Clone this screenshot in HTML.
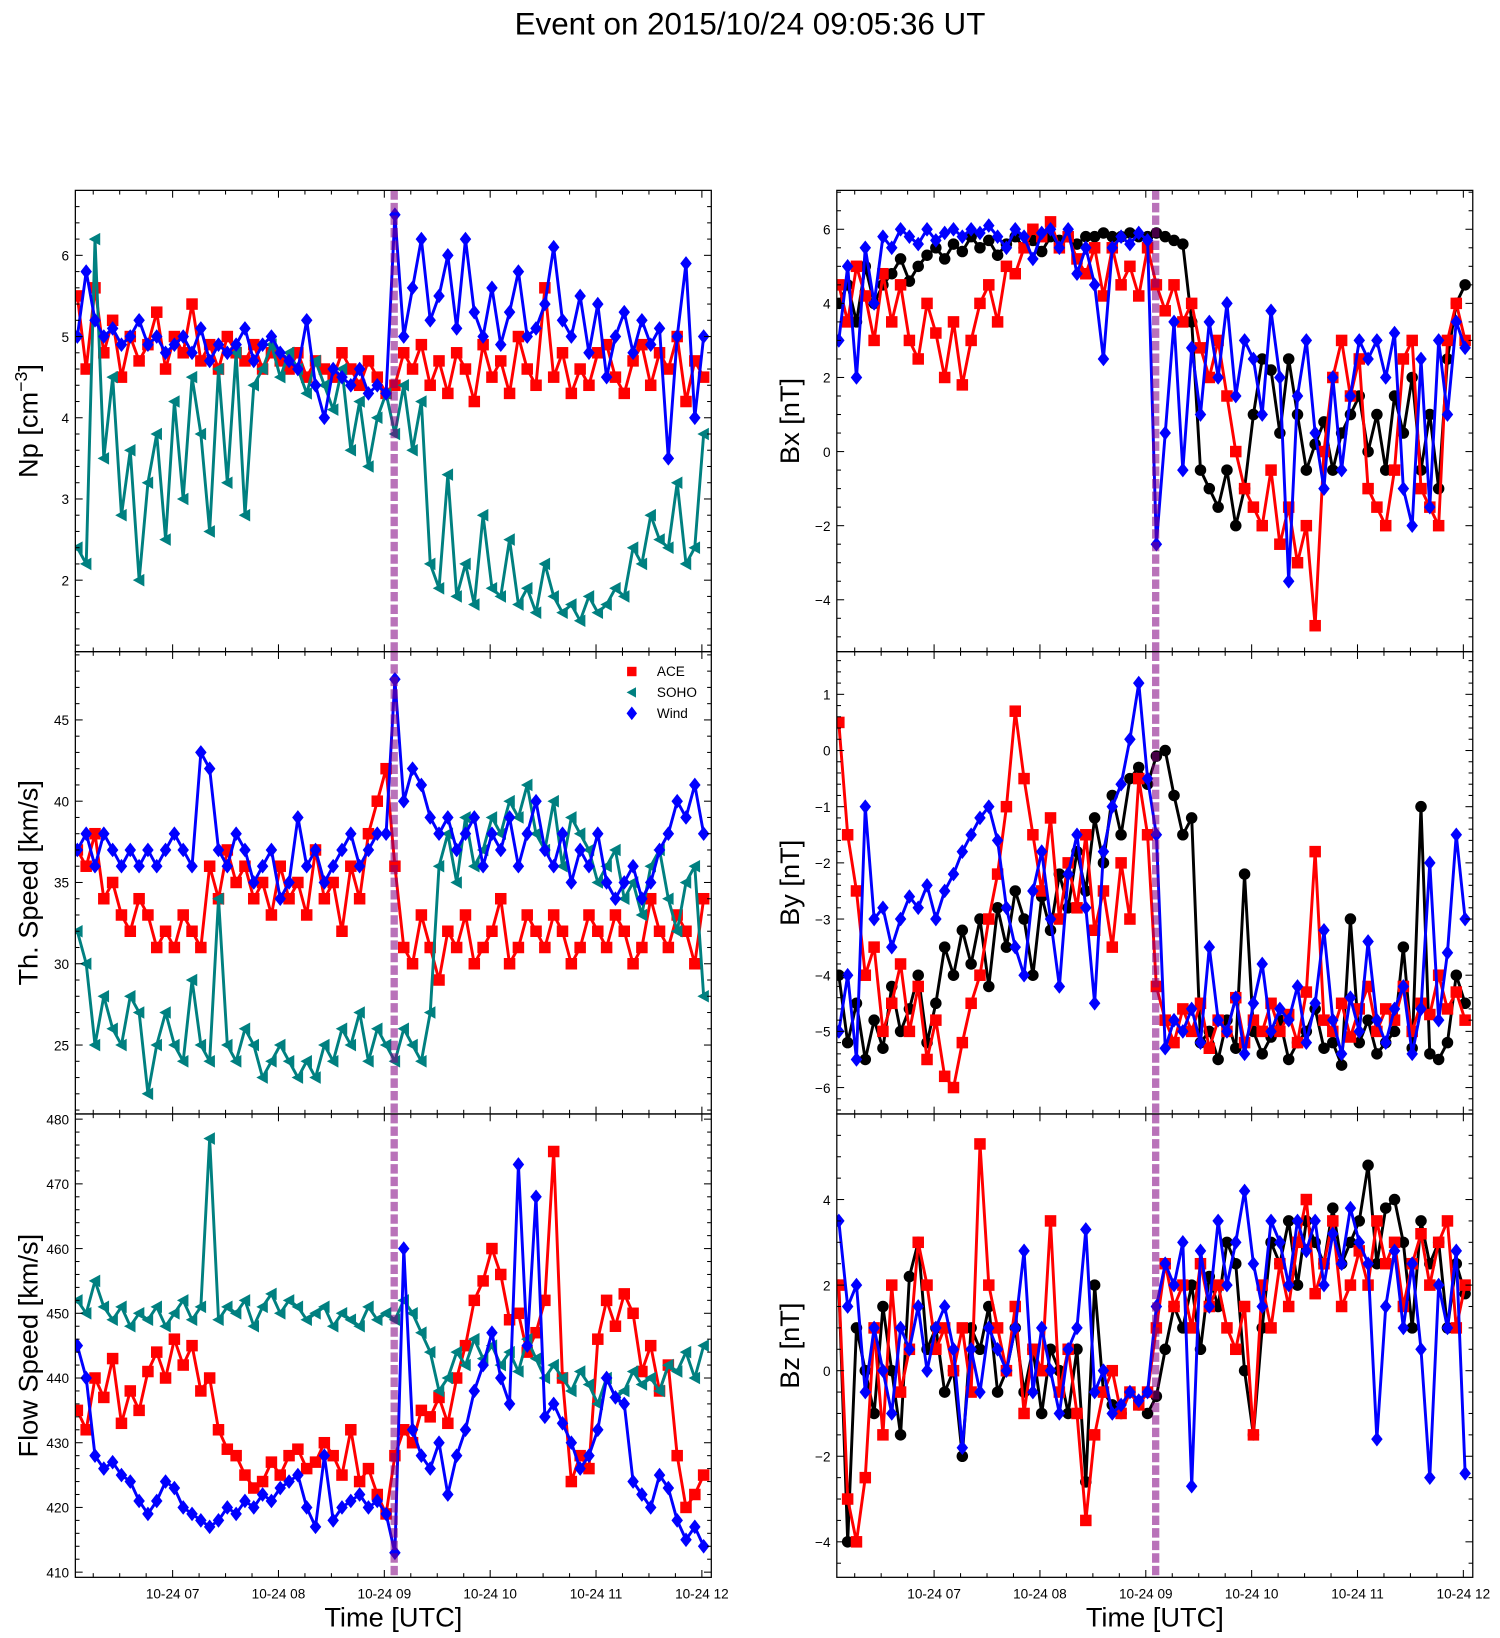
<!DOCTYPE html>
<html><head><meta charset="utf-8"><style>
html,body{margin:0;padding:0;background:#fff;}
svg{display:block;font-family:"Liberation Sans","DejaVu Sans",sans-serif;}
</style></head><body>
<svg id="fig" width="1500" height="1638" viewBox="0 0 1434 1566" xmlns="http://www.w3.org/2000/svg">
<rect width="1434" height="1566" fill="#fff"/>
<text x="717" y="33" font-size="30" text-anchor="middle">Event on 2015/10/24 09:05:36 UT</text>
</svg>
<script>
// ---- data (time in decimal hours, 5-minute samples starting 06:06) ----
const tStart = 6.1, tStep = 1/12;
const eventTime = 9.0933;
const hourTicks = [7,8,9,10,11,12];
const hourLabels = ["10-24 07","10-24 08","10-24 09","10-24 10","10-24 11","10-24 12"];

const npACE = [5.5,4.6,5.6,4.8,5.2,4.5,5.0,4.7,4.9,5.3,4.6,5.0,4.8,5.4,4.7,4.9,4.6,5.0,4.8,4.7,4.9,4.6,4.8,4.7,4.6,4.8,4.5,4.7,4.6,4.5,4.8,4.6,4.4,4.7,4.5,4.3,4.4,4.8,4.6,4.9,4.4,4.7,4.3,4.8,4.6,4.2,4.9,4.5,4.7,4.3,5.0,4.6,4.4,5.6,4.5,4.8,4.3,4.6,4.4,4.8,4.9,4.5,4.3,4.7,4.9,4.4,4.8,4.6,5.0,4.2,4.7,4.5];
const npSOHO = [2.4,2.2,6.2,3.5,4.5,2.8,3.6,2.0,3.2,3.8,2.5,4.2,3.0,4.5,3.8,2.6,4.6,3.2,4.8,2.8,4.4,4.6,4.9,4.5,4.8,4.6,4.3,4.7,4.4,4.1,4.6,3.6,4.2,3.4,4.0,4.3,3.8,4.4,3.6,4.2,2.2,1.9,3.3,1.8,2.2,1.7,2.8,1.9,1.8,2.5,1.7,1.9,1.6,2.2,1.8,1.6,1.7,1.5,1.8,1.6,1.7,1.9,1.8,2.4,2.2,2.8,2.5,2.4,3.2,2.2,2.4,3.8];
const npWind = [5.0,5.8,5.2,5.0,5.1,4.9,5.0,5.2,4.9,5.0,4.8,4.9,5.0,4.8,5.1,4.7,4.9,4.8,4.9,5.1,4.7,4.9,5.0,4.8,4.7,4.6,5.2,4.4,4.0,4.6,4.5,4.4,4.6,4.3,4.4,4.3,6.5,5.0,5.6,6.2,5.2,5.5,6.0,5.1,6.2,5.3,5.0,5.6,4.9,5.3,5.8,5.0,5.1,5.4,6.1,5.2,5.0,5.5,4.8,5.4,4.5,5.0,5.3,4.8,5.2,4.9,5.1,3.5,5.0,5.9,4.0,5.0];

const thACE = [37,36,38,34,35,33,32,34,33,31,32,31,33,32,31,36,34,37,35,36,34,35,33,36,34,35,33,37,34,35,32,36,34,38,40,42,36,31,30,33,31,29,32,31,33,30,31,32,34,30,31,33,32,31,33,32,30,31,33,32,31,33,32,30,31,34,32,31,33,32,30,34];
const thSOHO = [32,30,25,28,26,25,28,27,22,25,27,25,24,29,25,24,34,25,24,26,25,23,24,25,24,23,24,23,25,24,26,25,27,24,26,25,24,26,25,24,27,36,38,35,39,36,37,39,38,40,39,41,38,37,40,36,39,38,37,35,36,37,34,35,33,36,37,34,32,35,36,28];
const thWind = [37,38,36,38,37,36,37,36,37,36,37,38,37,36,43,42,37,36,38,37,35,36,37,34,35,39,36,37,35,36,37,38,36,37,38,38,47.5,40,42,41,39,38,39,37,38,39,36,38,37,39,36,38,40,37,36,38,35,37,36,38,35,34,35,36,34,35,37,38,40,39,41,38];

const vACE = [435,432,440,437,443,433,438,435,441,444,440,446,442,445,438,440,432,429,428,425,423,424,427,425,428,429,426,427,430,428,425,432,424,426,422,419,428,432,430,435,434,437,433,440,445,452,455,460,456,449,450,444,447,452,475,440,424,428,426,446,452,448,453,450,441,445,438,442,428,420,422,425];
const vSOHO = [452,450,455,451,449,451,448,450,449,451,448,450,452,449,451,477,449,451,450,452,448,451,453,450,452,451,449,450,451,448,450,449,448,451,449,450,449,452,450,447,444,438,440,444,442,446,443,445,442,444,441,446,443,440,442,440,438,441,439,436,440,437,438,441,439,440,438,442,441,444,440,445];
const vWind = [445,440,428,426,427,425,424,421,419,421,424,423,420,419,418,417,418,420,419,421,420,422,421,423,424,425,420,417,428,418,420,421,422,420,421,419,413,460,432,428,426,430,422,428,432,438,442,447,440,436,473,445,468,434,436,433,430,426,428,432,440,437,436,424,422,420,425,423,418,415,417,414];

const bxBlack = [4,4.5,3.5,5,4,4.5,4.8,5.2,4.6,5,5.3,5.5,5.2,5.6,5.4,5.8,5.5,5.7,5.3,5.6,5.8,5.5,5.7,5.4,5.8,5.7,5.8,5.6,5.8,5.8,5.9,5.8,5.8,5.9,5.8,5.8,5.9,5.8,5.7,5.6,3.5,-0.5,-1,-1.5,-0.5,-2,-1,1,2.5,2.2,0.5,2.5,1,-0.5,0.2,0.8,-0.5,0.5,1,1.5,0,1,-0.5,1.5,0.5,2,-0.5,1,-1,2.5,4,4.5];
const bxACE = [4.5,3.5,5,4.2,3,4.8,3.5,4.5,3,2.5,4,3.2,2,3.5,1.8,3,4,4.5,3.5,5,4.8,5.5,6,5.8,6.2,5.5,5.8,5.2,4.8,5.5,4.2,5.5,4.5,5,4.2,5.5,4.5,3.8,4.5,3.5,4,2.8,2,3,1.5,0,-1,-1.5,-2,-0.5,-2.5,-1.5,-3,-2,-4.7,0,2,3,1.5,2.5,-1,-1.5,-2,-0.5,2.5,3,-1,-1.5,-2,3,4,3];
const bxWind = [3,5,2,5.5,4,5.8,5.5,6,5.8,5.6,6,5.7,5.9,6,5.8,6,5.9,6.1,5.8,5.5,6,5.8,5.2,5.9,6,5.5,6,4.8,5.5,4.5,2.5,5.5,5.8,5.6,5.9,5.7,-2.5,0.5,3.5,-0.5,2.8,1,3.5,2,4,1.5,3,2.5,1,3.8,2,-3.5,1.5,3,0.5,-1,2,-0.5,1.5,3,2.5,3,2,3.2,-1,-2,2.5,-1.5,3,1,3.5,2.8];

const byBlack = [-4,-5.2,-4.5,-5.5,-4.8,-5.3,-4.2,-5,-4.6,-4,-5.2,-4.5,-3.5,-4,-3.2,-3.8,-3,-4.2,-2.8,-3.5,-2.5,-3,-4,-2.6,-3.2,-2.2,-2.8,-1.8,-2.5,-1.2,-2,-0.8,-1.5,-0.5,-0.3,-0.6,-0.1,0,-0.8,-1.5,-1.2,-5.2,-5,-5.5,-4.8,-5.3,-2.2,-5,-5.4,-5.1,-4.8,-5.5,-5.2,-5,-4.6,-5.3,-5.2,-5.6,-3,-5.2,-4.8,-5.4,-5.2,-5,-3.5,-5.3,-1,-5.4,-5.5,-5.2,-4,-4.5];
const byACE = [0.5,-1.5,-2.5,-4,-3.5,-5,-4.5,-3.8,-5,-4.2,-5.5,-4.8,-5.8,-6,-5.2,-4.5,-4,-3,-2.2,-1,0.7,-0.5,-1.5,-2.5,-1.2,-3,-2,-2.8,-1.5,-3.2,-2.5,-3.5,-2,-3,-0.5,-1.5,-4.2,-4.8,-5.2,-4.6,-5,-4.5,-5.3,-4.8,-5,-4.4,-5.2,-4.8,-5,-4.5,-5,-4.7,-5.2,-4.3,-1.8,-4.8,-5,-4.5,-5.1,-4.6,-4.2,-5,-4.6,-4.8,-4.2,-5,-4.5,-4.7,-4,-4.6,-4.3,-4.8];
const byWind = [-5,-4,-5.5,-1,-3,-2.8,-3.5,-3,-2.6,-2.8,-2.4,-3,-2.5,-2.2,-1.8,-1.5,-1.2,-1,-1.6,-2.8,-3.5,-4,-2.5,-1.8,-3,-4.2,-2.2,-1.5,-2.8,-4.5,-1.8,-1,-0.6,0.2,1.2,-0.5,-1.5,-5.3,-4.8,-5,-4.6,-5.2,-3.5,-4.8,-5,-4.4,-5.4,-4.5,-3.8,-5,-4.6,-4.8,-4.2,-5.2,-4.5,-3.2,-4.8,-5.4,-4.4,-5,-3.4,-4.8,-5.2,-4.6,-4.2,-5.4,-4.6,-2,-4.8,-3.6,-1.5,-3];

const bzBlack = [2,-4,1,0,-1,1.5,0,-1.5,2.2,3,0.5,1,-0.5,0,-2,1,0.5,1.5,-0.5,0,1,-0.5,0.5,-1,0.5,0,-1,0.5,-2.6,2,-0.5,-0.8,-1,-0.5,-0.8,-1,-0.6,0.5,1.5,1,2,0.5,2.2,1.5,3,2.5,0,-1.5,1,3,2.5,3.5,2,3.5,3,2.5,3.8,2.5,3,3.5,4.8,2.5,3.8,4,3,1,3.5,2.5,3,1,2.5,1.8];
const bzACE = [2,-3,-4,-2.5,1,-1.5,2,-0.5,0.5,3,2,0.5,1,0,1,-0.5,5.3,2,1,0,1.5,-1,0.5,0,3.5,-0.5,0.5,-1,-3.5,-1.5,-0.5,0,-1,-0.5,-0.8,-0.5,1,2.5,1.5,2,1,2.5,1.5,2,1,0.5,1.5,-1.5,2,1,2.5,1.5,3,4,1.8,2.5,3.5,1.5,2,2.8,2,3.5,2.5,3,1.5,2.5,3.2,2,3,3.5,1,2];
const bzWind = [3.5,1.5,2,-0.5,1,0,-1,1,0.5,1.5,0,1,1.5,0.5,-1.8,0.5,-0.5,1,0.5,0,1,2.8,-0.5,1,0,-1,0.5,1,3.3,-0.5,0,-1,-0.8,-0.5,-0.7,-0.5,1.5,2.5,2,3,-2.7,2.8,1.5,3.5,2,3,4.2,2.5,1.5,3.5,3,2,3.5,2.8,3.5,2,3.2,2.5,3.8,3,2.5,-1.6,1.5,2.8,1,2.5,0.5,-2.5,2,1,2.8,-2.4];

const npTicks=[2,3,4,5,6], thTicks=[25,30,35,40,45], vTicks=[410,420,430,440,450,460,470,480];
const bxTicks=[-4,-2,0,2,4,6], byTicks=[-6,-5,-4,-3,-2,-1,0,1], bzTicks=[-4,-2,0,2,4];

// ---- drawing ----
const NS="http://www.w3.org/2000/svg";
const svg=document.getElementById('fig');
function mk(tag,attrs,parent){const e=document.createElementNS(NS,tag);for(const k in attrs)e.setAttribute(k,attrs[k]);(parent||svg).appendChild(e);return e;}
const xMin=6.081, xMax=12.089;
const COL={ACE:'#ff0000',SOHO:'#008080',Wind:'#0000ff',Black:'#000000'};

function panel(name,x0,y0,w,h,yMin,yMax,majors,minorStep,ylabel,series,bottom){
  const g=mk('g',{});
  
  
  const X=t=>x0+(t-xMin)/(xMax-xMin)*w;
  const Y=v=>y0+h-(v-yMin)/(yMax-yMin)*h;
  const clipId='c-'+name;
  const cp=mk('clipPath',{id:clipId},g);mk('rect',{x:x0,y:y0,width:w,height:h},cp);
  const plot=mk('g',{'clip-path':'url(#'+clipId+')'},g);
  series.forEach(s=>{
    const sg=mk('g',{},plot);
    
    
    const pts=s.data.map((v,i)=>[X(tStart+i*tStep),Y(v)]);
    mk('polyline',{points:pts.map(p=>p[0].toFixed(1)+','+p[1].toFixed(1)).join(' '),fill:'none',stroke:COL[s.key],'stroke-width':2.8,'stroke-linejoin':'round'},sg);
    pts.forEach(([px,py])=>{
      let m;
      if(s.key==='ACE')m=mk('rect',{x:px-5.5,y:py-5.5,width:11,height:11,fill:COL.ACE},sg);
      else if(s.key==='SOHO')m=mk('polygon',{points:`${px-6},${py} ${px+5},${py-6} ${px+5},${py+6}`,fill:COL.SOHO},sg);
      else if(s.key==='Wind')m=mk('polygon',{points:`${px},${py-7} ${px+5.5},${py} ${px},${py+7} ${px-5.5},${py}`,fill:COL.Wind},sg);
      else m=mk('circle',{cx:px,cy:py,r:5.5,fill:'#000'},sg);
      
      
    });
  });
  const ev=mk('line',{x1:X(eventTime),x2:X(eventTime),y1:y0,y2:y0+h,stroke:'#800080','stroke-width':7,'stroke-dasharray':'9 3',opacity:0.55},g);
  
  
  mk('rect',{x:x0,y:y0,width:w,height:h,fill:'none',stroke:'#000','stroke-width':1.2},g);
  for(let t=6.25;t<xMax;t+=0.25){
    const px=X(t);const maj=Math.abs(t-Math.round(t))<1e-6;const L=maj?7:4;
    mk('line',{x1:px,x2:px,y1:y0+h,y2:y0+h-L,stroke:'#000','stroke-width':1},g);
    mk('line',{x1:px,x2:px,y1:y0,y2:y0+L,stroke:'#000','stroke-width':1},g);
  }
  if(bottom){
    hourTicks.forEach((t,i)=>{
      const tl=mk('text',{x:X(t),y:y0+h+20,'font-size':13,'text-anchor':'middle'},g);
      tl.textContent=hourLabels[i];
      
      
    });
    const xl=mk('text',{x:x0+w/2,y:y0+h+47,'font-size':26,'text-anchor':'middle'},g);
    xl.textContent='Time [UTC]';
    
    
  }
  const start=Math.ceil(yMin/minorStep)*minorStep;
  for(let v=start;v<=yMax;v+=minorStep){
    const py=Y(v);const maj=majors.some(m=>Math.abs(m-v)<1e-6);const L=maj?7:4;
    mk('line',{x1:x0,x2:x0+L,y1:py,y2:py,stroke:'#000','stroke-width':1},g);
    mk('line',{x1:x0+w,x2:x0+w-L,y1:py,y2:py,stroke:'#000','stroke-width':1},g);
  }
  majors.forEach(v=>{
    const tl=mk('text',{x:x0-6,y:Y(v)+5,'font-size':13,'text-anchor':'end'},g);
    tl.textContent=v<0?'\u2212'+Math.abs(v):String(v);
    
    
  });
  const yl=mk('text',{x:0,y:0,'font-size':26,'text-anchor':'middle',transform:`translate(${x0-36},${y0+h/2}) rotate(-90)`},g);
  yl.innerHTML=ylabel;
  
  
  return {X,Y};
}

const LX=72,RX=800,W=608;
panel('np',LX,182,W,441,1.12,6.8,npTicks,0.2,'Np [cm<tspan dy="-10" font-size="17">\u22123</tspan><tspan dy="10">]</tspan>',
  [{key:'ACE',data:npACE},{key:'SOHO',data:npSOHO},{key:'Wind',data:npWind}],false);
panel('thermal-speed',LX,623,W,442,20.76,49.2,thTicks,1,'Th. Speed [km/s]',
  [{key:'ACE',data:thACE},{key:'SOHO',data:thSOHO},{key:'Wind',data:thWind}],false);
panel('flow-speed',LX,1065,W,443,409.2,480.8,vTicks,2,'Flow Speed [km/s]',
  [{key:'ACE',data:vACE},{key:'SOHO',data:vSOHO},{key:'Wind',data:vWind}],true);
panel('bx',RX,182,W,441,-5.4,7.05,bxTicks,0.5,'Bx [nT]',
  [{key:'Black',data:bxBlack},{key:'ACE',data:bxACE},{key:'Wind',data:bxWind}],false);
panel('by',RX,623,W,442,-6.47,1.76,byTicks,0.2,'By [nT]',
  [{key:'Black',data:byBlack},{key:'ACE',data:byACE},{key:'Wind',data:byWind}],false);
panel('bz',RX,1065,W,443,-4.83,6.0,bzTicks,0.5,'Bz [nT]',
  [{key:'Black',data:bzBlack},{key:'ACE',data:bzACE},{key:'Wind',data:bzWind}],true);

const leg=mk('g',{});


const legendNames=['ACE','SOHO','Wind'];
legendNames.forEach((n,i)=>{
  const cy=642+i*20, cx=604;
  const e=mk('g',{},leg);
  
  
  if(n==='ACE')mk('rect',{x:cx-4.5,y:cy-4.5,width:9,height:9,fill:COL.ACE},e);
  else if(n==='SOHO')mk('polygon',{points:`${cx-5},${cy} ${cx+4},${cy-5} ${cx+4},${cy+5}`,fill:COL.SOHO},e);
  else mk('polygon',{points:`${cx},${cy-6.5} ${cx+5},${cy} ${cx},${cy+6.5} ${cx-5},${cy}`,fill:COL.Wind},e);
  const t=mk('text',{x:628,y:cy+4.5,'font-size':13},e);t.textContent=n;
});
</script>
</body></html>
